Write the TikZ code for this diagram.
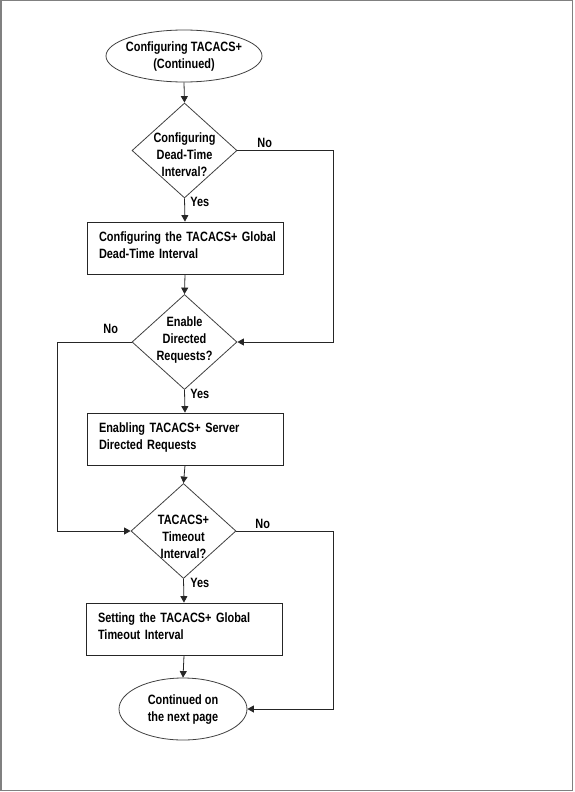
\documentclass[tikz,border=0pt]{standalone}
\usepackage{fontspec}
\setmainfont{Liberation Sans}[FakeStretch=0.81]
\usetikzlibrary{shapes.geometric,arrows.meta,positioning}
\hbadness=10000 \hfuzz=50pt
\begin{document}
\begin{tikzpicture}[x=1pt,y=-1pt,
  font=\fontsize{13.5}{17}\selectfont\bfseries,
  line width=0.8pt,
  conn/.style={draw=black!85,-{Triangle[length=6.5pt,width=7pt]}},
  decis/.style={diamond,draw=black!75,minimum width=105pt,minimum height=95pt,inner sep=0pt},
  term/.style={ellipse,draw=black!75,inner sep=0pt},
  stepbox/.style={rectangle,draw=black!85,minimum width=196pt,minimum height=52pt,text width=172pt,inner xsep=12pt,align=left},
  lbl/.style={inner sep=0pt,anchor=west}
]
\useasboundingbox (0,0) rectangle (574,792);
\draw[draw=black!50,line width=1.5pt] (0.75,0.75) rectangle (572.5,790.5);

\node[term,minimum width=156pt,minimum height=52pt,
  label={[align=center,yshift=-1pt]center:Configuring TACACS+\\(Continued)}] (e1) at (184,56) {};
\node[decis,label={[align=center,yshift=-4pt]center:Configuring\\Dead-Time\\Interval?}] (d1) at (184.5,150.5) {};
\node[stepbox] (b1) at (185,248) {\mbox{Configuring the TACACS+ Global}\\\mbox{Dead-Time Interval}\\[-11pt]\mbox{}};
\node[decis,label={[align=center,yshift=2pt]center:Enable\\Directed\\Requests?}] (d2) at (184.5,342) {};
\node[stepbox] (b2) at (185,439) {\mbox{Enabling TACACS+ Server}\\\mbox{Directed Requests}\\[-12pt]\mbox{}};
\node[decis,label={[align=center,yshift=-6pt]center:TACACS+\\Timeout\\Interval?}] (d3) at (183.5,531) {};
\node[stepbox] (b3) at (184,629) {\mbox{Setting the TACACS+ Global}\\\mbox{Timeout Interval}\\[-12pt]\mbox{}};
\node[term,minimum width=128pt,minimum height=62pt,
  label={[align=center,yshift=-1pt]center:Continued on\\the next page}] (e2) at (183,709) {};

\coordinate (r1) at (333,0);
\coordinate (l1) at (57,0);

\draw[conn] (e1.south) -- (d1.north);
\draw[conn] (d1.south) -- (b1.north);
\draw[conn] (b1.south) -- (d2.north);
\draw[conn] (d2.south) -- (b2.north);
\draw[conn] (b2.south) -- (d3.north);
\draw[conn] (d3.south) -- (b3.north);
\draw[conn] (b3.south) -- (e2.north);

\draw[conn] (d1.east) -- (d1.east -| r1) -- (d2.east -| r1) -- (d2.east);
\draw[conn] (d2.west) -- (d2.west -| l1) -- (d3.west -| l1) -- (d3.west);
\draw[conn] (d3.east) -- (d3.east -| r1) -- (e2.east -| r1) -- (e2.east);

\node[lbl] (y1) at (190,202) {Yes};
\node[lbl] (y2) at (190,394) {Yes};
\node[lbl] (y3) at (190,583) {Yes};
\node[lbl] (n1) at (257,143) {No};
\node[lbl] (n2) at (103,329) {No};
\node[lbl] (n3) at (255,524) {No};
\end{tikzpicture}
\end{document}
